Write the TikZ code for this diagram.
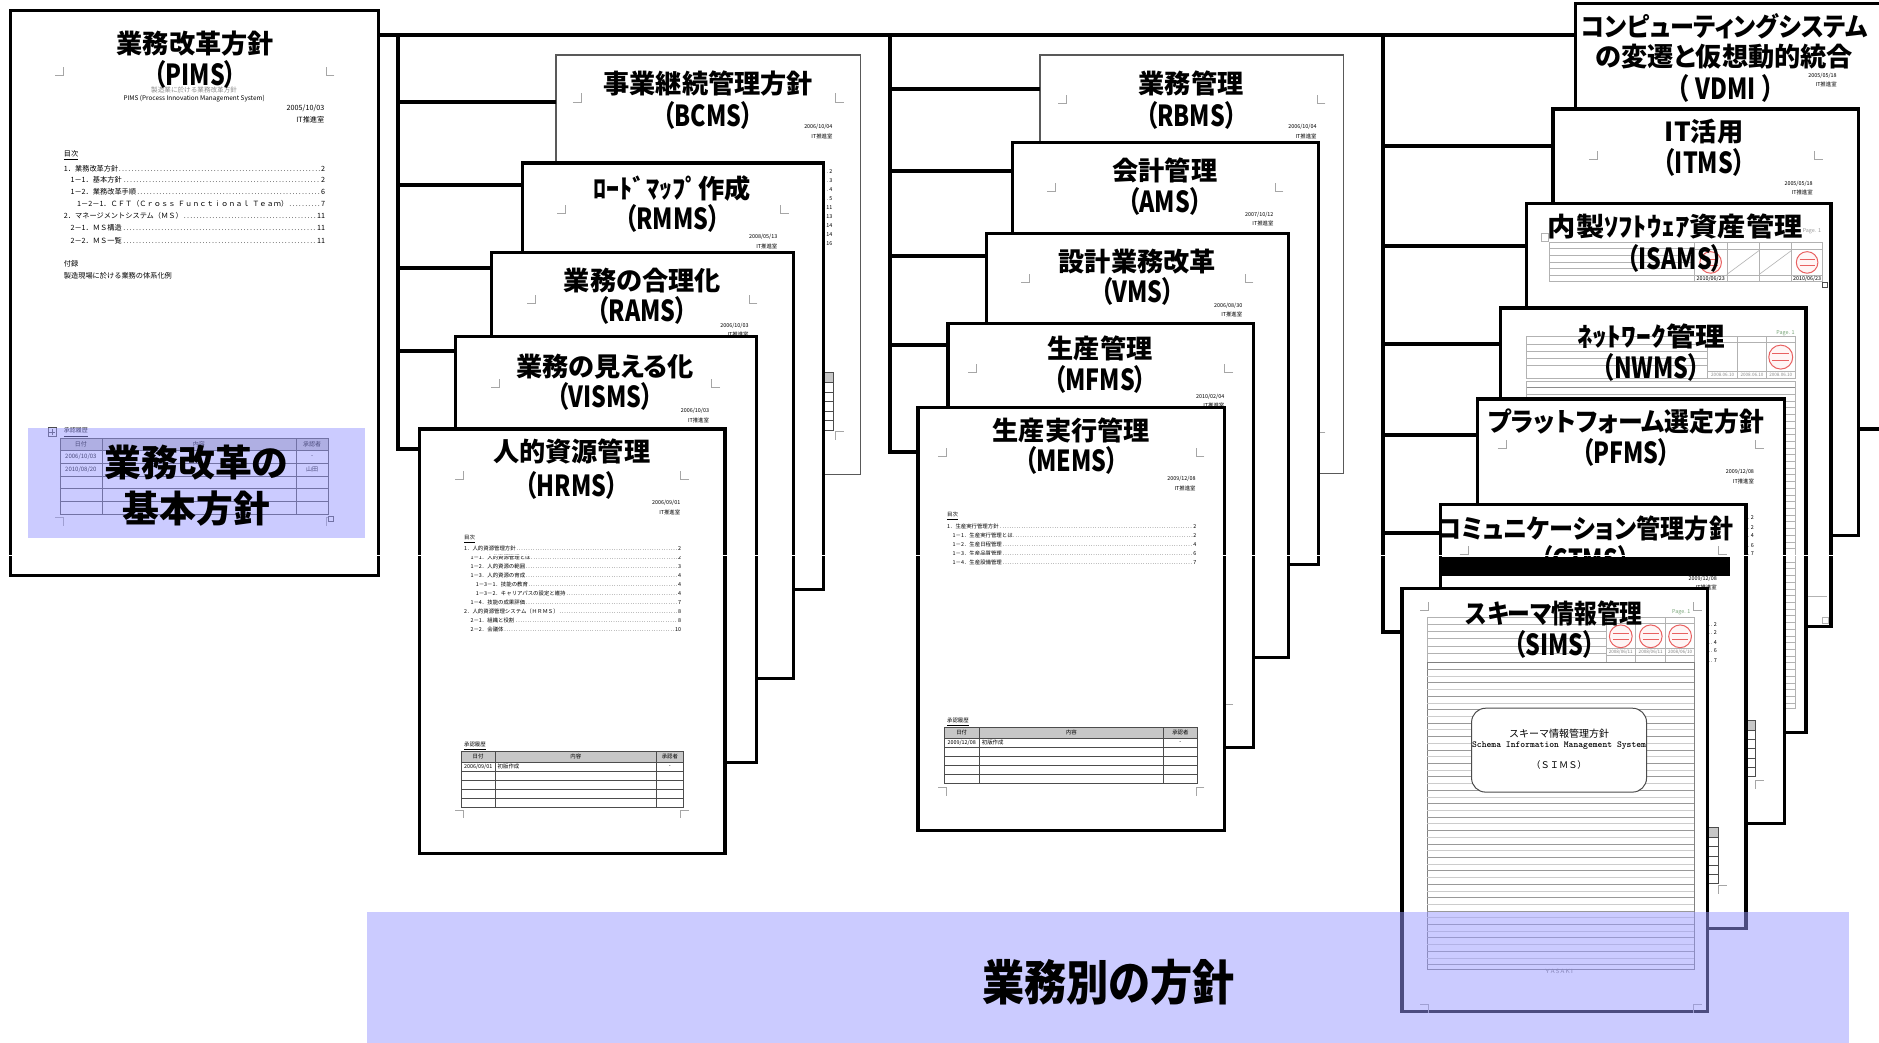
\documentclass[tikz,border=0pt]{standalone}
\usepackage{graphicx}
\usepackage{fontspec}
\newfontfamily\jp{Noto Sans CJK JP}[RawFeature=+palt]
\newfontfamily\jpn{Noto Sans CJK JP}
\usetikzlibrary{fit}
\definecolor{hlblue}{RGB}{153,153,255}
\definecolor{stampred}{RGB}{232,96,96}
\definecolor{pagegreen}{RGB}{120,165,120}
\tikzset{
  conn/.style={draw=black, line width=2pt, line join=miter},
  pgk/.style={draw=black, line width=1.6pt, fill=white, inner sep=0pt, outer sep=0pt},
  pgt/.style={draw=black!65, line width=0.8pt, fill=white, inner sep=0pt, outer sep=0pt},
  ttl/.style={font=\jp\bfseries\fontsize{13.1}{14}\selectfont, inner sep=0pt},
  bigttl/.style={font=\jp\bfseries\fontsize{18.4}{19}\selectfont, inner sep=0pt},
  sml/.style={font=\jpn\fontsize{2.7}{3}\selectfont, inner sep=0pt},
  smp/.style={font=\jpn\fontsize{3.6}{4}\selectfont, inner sep=0pt},
  smq/.style={font=\jpn\fontsize{3}{3.4}\selectfont, inner sep=0pt},
  cmk/.style={draw=black!35, line width=0.35pt},
  tline/.style={draw=black!70, line width=0.35pt},
  gline/.style={draw=black!30, line width=0.3pt},
  hl/.style={fill=hlblue, fill opacity=0.5, draw=none},
  stampst/.style={draw=stampred, line width=0.5pt, fill=red!4},
}
% corner marks
\newcommand\cmTL[2]{\draw[cmk] (#1-7,#2) -- (#1,#2) -- (#1,#2-7);}
\newcommand\cmTR[2]{\draw[cmk] (#1+7,#2) -- (#1,#2) -- (#1,#2-7);}
\newcommand\cmBL[2]{\draw[cmk] (#1-7,#2) -- (#1,#2) -- (#1,#2+7);}
\newcommand\cmBR[2]{\draw[cmk] (#1+7,#2) -- (#1,#2) -- (#1,#2+7);}
\newcommand\pgmarks[7]{\cmTL{#1+#5}{#2+#6}\cmTR{#3-#5}{#2+#6}\cmBL{#1+#5}{#4-#7}\cmBR{#3-#5}{#4-#7}}
% date block
\newcommand\dblock[4]{%
  \node[sml, anchor=east] (#1-date) at (#2,#3) {#4};
  \node[sml, anchor=east] (#1-dept) at (#2,#3+7.5) {IT推進室};}
% titles (line 1 may be widened/narrowed by factor #7)
\newcommand\ttls[7]{%
  \node[ttl] (#1-t1) at (#2,#3) {\scalebox{#7}[1]{#4}};
  \node[ttl] (#1-t2) at (#2,#5) {\scalebox{0.8}[1]{\fontsize{14.5}{15}\selectfont #6}};}
% table: L T R B c1 c2 headerheight
\newcommand\tbl[7]{%
  \fill[black!22] (#1,#2) rectangle (#3,#2+#7);
  \foreach \i in {0,...,4} {\draw[tline] (#1,{#2+#7+\i*(#4-#2-#7)/5}) -- (#3,{#2+#7+\i*(#4-#2-#7)/5});}
  \draw[tline] (#1,#2) rectangle (#3,#4);
  \draw[tline] (#5,#2) -- (#5,#4) (#6,#2) -- (#6,#4);}
% toc line: style name x y width text num
\newcommand\tocl[7]{\node[#1, anchor=west, text width=#5] (#2) at (#3,#4) {#6\dotfill #7};}
% short toc tail (only its right end shows): name xr y num
\newcommand\tocr[4]{\node[sml, anchor=east, text width=12pt] (#1) at (#2,#3) {\dotfill #4};}
% stamp
\newcommand\stampc[3]{\draw[stampst] (#1,#2) circle[radius=#3];
  \draw[draw=stampred, line width=0.3pt] (#1-#3*0.7,#2-#3*0.3) -- (#1+#3*0.7,#2-#3*0.3) (#1-#3*0.7,#2+#3*0.3) -- (#1+#3*0.7,#2+#3*0.3);}

\begin{document}
\begin{tikzpicture}[x=0.5992pt, y=-0.5992pt]
\useasboundingbox (0,0) rectangle (1568,870.3);
\fill[white] (0,0) rectangle (1568,870.3);

% ================= PIMS =================
\node[pgk, fit={(9,9) (316,480)}] (pims) {};
\pgmarks{9}{9}{316}{480}{44}{54}{48}
\node[font=\jpn\fontsize{3.3}{4}\selectfont, text=black!45, inner sep=0pt] (pims-sub) at (162,75.5) {製造業に於ける業務改革方針};
\node[font=\jpn\fontsize{3.2}{4}\selectfont, inner sep=0pt] (pims-en) at (162,82) {PIMS (Process Innovation Management System)};
\node[smp, anchor=east] (pims-date) at (271,90.5) {2005/10/03};
\node[smp, anchor=east] (pims-dept) at (271,100) {IT推進室};
\node[smp, anchor=west] (pims-mk) at (53,130) {\underline{目次}};
\tocl{smp}{pims-c1}{53}{141}{130.6pt}{1．業務改革方針}{2}
\tocl{smp}{pims-c2}{53}{150}{130.6pt}{\hspace*{3.3pt}1－1．基本方針}{2}
\tocl{smp}{pims-c3}{53}{160}{130.6pt}{\hspace*{3.3pt}1－2．業務改革手順}{6}
\tocl{smp}{pims-c4}{53}{170}{130.6pt}{\hspace*{6.6pt}1－2－1．ＣＦＴ（Ｃｒｏｓｓ Ｆｕｎｃｔｉｏｎａｌ Ｔｅａｍ）}{7}
\tocl{smp}{pims-c5}{53}{180}{130.6pt}{2．マネージメントシステム（ＭＳ）}{11}
\tocl{smp}{pims-c6}{53}{190}{130.6pt}{\hspace*{3.3pt}2－1．ＭＳ構造}{11}
\tocl{smp}{pims-c7}{53}{201}{130.6pt}{\hspace*{3.3pt}2－2．ＭＳ一覧}{11}
\node[smp, anchor=west] (pims-ap1) at (53,220) {付録};
\node[smp, anchor=west] (pims-ap2) at (53,230) {製造現場に於ける業務の体系化例};
\node[smq, anchor=west] (pims-hist) at (53,361) {\underline{承認履歴}};
\draw[tline] (40,357) rectangle (47,364) (43.5,358) -- (43.5,363) (41,360.5) -- (46,360.5);
\tbl{50}{366}{274}{429}{85}{247}{10}
\node[smq] (pims-h1) at (67.5,371) {日付};
\node[smq] (pims-h2) at (166,371) {内容};
\node[smq] (pims-h3) at (260.5,371) {承認者};
\node[smq] (pims-r1) at (67.5,381.3) {2006/10/03};
\node[smq] (pims-r2) at (260.5,381.3) {-};
\node[smq] (pims-r3) at (67.5,391.9) {2010/08/20};
\node[smq] (pims-r4) at (260.5,391.9) {山田};
\draw[tline, fill=white] (274,431) rectangle (278,435);
\ttls{pims}{163}{36}{業務改革方針}{62}{（PIMS）}{1}
\fill[hl] (23,357) rectangle (305,449);
\node[bigttl] (pims-b1) at (164,386) {業務改革の};
\node[bigttl] (pims-b2) at (164,424) {基本方針};

% ================= group 1 =================
\node[pgt, fit={(464,46) (718,396)}] (bcms) {};
\pgmarks{464}{46}{718}{396}{21}{39}{36}
\dblock{bcms}{695}{106}{2006/10/04}
\foreach \k/\n in {0/2,1/3,2/4,3/5,4/11,5/13,6/14,7/14,8/16}
  {\tocr{bcms-c\k}{695}{143+7.5*\k}{\n}}
\tbl{487}{311}{695}{359}{515}{672}{8}
\ttls{bcms}{591}{70}{事業継続管理方針}{96}{（BCMS）}{1}

\node[pgk, fit={(436,136) (687,492)}] (rmms) {};
\pgmarks{436}{136}{687}{492}{36}{42}{36}
\dblock{rmms}{649}{198}{2008/05/13}
\ttls{rmms}{561}{157}{ﾛｰﾄﾞﾏｯﾌﾟ作成}{182}{（RMMS）}{1}

\node[pgk, fit={(410,211) (662,566)}] (rams) {};
\pgmarks{410}{211}{662}{566}{37}{42}{36}
\dblock{rams}{625}{272}{2006/10/03}
\ttls{rams}{536}{234}{業務の合理化}{259}{（RAMS）}{1}

\node[pgk, fit={(380,281) (631,636)}] (visms) {};
\pgmarks{380}{281}{631}{636}{37}{42}{36}
\dblock{visms}{592}{343}{2006/10/03}
\ttls{visms}{505}{306}{業務の見える化}{331}{（VISMS）}{1}

\node[pgk, fit={(350,358) (605,712)}] (hrms) {};
\pgmarks{350}{358}{605}{712}{37}{42}{36}
\dblock{hrms}{568}{420}{2006/09/01}
\node[sml, anchor=west] (hrms-mk) at (387,450) {\underline{目次}};
\tocl{sml}{hrms-c1}{387}{458}{108.5pt}{1．人的資源管理方針}{2}
\tocl{sml}{hrms-c2}{387}{465.45}{108.5pt}{\hspace*{3.2pt}1－1．人的資源管理とは}{2}
\tocl{sml}{hrms-c3}{387}{472.9}{108.5pt}{\hspace*{3.2pt}1－2．人的資源の範囲}{3}
\tocl{sml}{hrms-c4}{387}{480.35}{108.5pt}{\hspace*{3.2pt}1－3．人的資源の育成}{4}
\tocl{sml}{hrms-c5}{387}{487.8}{108.5pt}{\hspace*{5.8pt}1－3－1．技能の教育}{4}
\tocl{sml}{hrms-c6}{387}{495.25}{108.5pt}{\hspace*{5.8pt}1－3－2．キャリアパスの設定と維持}{4}
\tocl{sml}{hrms-c7}{387}{502.7}{108.5pt}{\hspace*{3.2pt}1－4．技能の成果評価}{7}
\tocl{sml}{hrms-c8}{387}{510.15}{108.5pt}{2．人的資源管理システム（ＨＲＭＳ）}{8}
\tocl{sml}{hrms-c9}{387}{517.6}{108.5pt}{\hspace*{3.2pt}2－1．組織と役割}{8}
\tocl{sml}{hrms-c10}{387}{525.05}{108.5pt}{\hspace*{3.2pt}2－2．会議体}{10}
\node[sml, anchor=west] (hrms-hist) at (387,623) {\underline{承認履歴}};
\tbl{385}{627}{570}{674}{413}{548}{9}
\node[sml] (hrms-h1) at (399,631.5) {日付};
\node[sml] (hrms-h2) at (480.5,631.5) {内容};
\node[sml] (hrms-h3) at (559,631.5) {承認者};
\node[sml] (hrms-r1) at (399,639.8) {2006/09/01};
\node[sml, anchor=west] (hrms-r2) at (415,639.8) {初版作成};
\node[sml] (hrms-r3) at (559,639.8) {-};
\ttls{hrms}{477}{377}{人的資源管理}{405}{（HRMS）}{1}

% ================= group 2 =================
\node[pgt, fit={(868,46) (1121,395)}] (rbms) {};
\pgmarks{868}{46}{1121}{395}{22}{40}{34}
\dblock{rbms}{1099}{106}{2006/10/04}
\ttls{rbms}{994}{70}{業務管理}{96}{（RBMS）}{1}

\node[pgk, fit={(845,119) (1100,471)}] (ams) {};
\pgmarks{845}{119}{1100}{471}{36}{41}{36}
\dblock{ams}{1063}{179}{2007/10/12}
\ttls{ams}{972}{142}{会計管理}{168}{（AMS）}{1}

\node[pgk, fit={(823,195) (1075,549)}] (vms) {};
\pgmarks{823}{195}{1075}{549}{36}{41}{36}
\dblock{vms}{1037}{255}{2006/08/30}
\ttls{vms}{949}{218}{設計業務改革}{243}{（VMS）}{1}

\node[pgk, fit={(791,270) (1046,624)}] (mfms) {};
\pgmarks{791}{270}{1046}{624}{24}{41}{36}
\dblock{mfms}{1022}{331}{2010/02/04}
\ttls{mfms}{918}{291}{生産管理}{317}{（MFMS）}{1}

\node[pgk, fit={(766,340) (1022,693)}] (mems) {};
\pgmarks{766}{340}{1022}{693}{24}{41}{36}
\dblock{mems}{998}{400}{2009/12/08}
\node[sml, anchor=west] (mems-mk) at (790,431) {\underline{目次}};
\tocl{sml}{mems-c1}{790}{439}{124.6pt}{1．生産実行管理方針}{2}
\tocl{sml}{mems-c2}{790}{446.5}{124.6pt}{\hspace*{2.8pt}1－1．生産実行管理とは}{2}
\tocl{sml}{mems-c3}{790}{454}{124.6pt}{\hspace*{2.8pt}1－2．生産日程管理}{4}
\tocl{sml}{mems-c4}{790}{461.5}{124.6pt}{\hspace*{2.8pt}1－3．生産品質管理}{6}
\tocl{sml}{mems-c5}{790}{469}{124.6pt}{\hspace*{2.8pt}1－4．生産設備管理}{7}
\node[sml, anchor=west] (mems-hist) at (790,603) {\underline{承認履歴}};
\tbl{788}{607}{999}{654}{817}{971}{9}
\node[sml] (mems-h1) at (802.5,611.5) {日付};
\node[sml] (mems-h2) at (894,611.5) {内容};
\node[sml] (mems-h3) at (985,611.5) {承認者};
\node[sml] (mems-r1) at (802.5,619.8) {2009/12/08};
\node[sml, anchor=west] (mems-r2) at (819,619.8) {初版作成};
\node[sml] (mems-r3) at (985,619.8) {-};
\ttls{mems}{894}{359}{生産実行管理}{384}{（MEMS）}{1}

% ================= group 3 =================
\node[pgk, fit={(1315,3) (1600,358)}] (vdmi) {};
\dblock{vdmi}{1533}{63}{2005/05/18}
\node[ttl] (vdmi-t1) at (1439,22) {\scalebox{0.92}[1]{コンピューティングシステム}};
\node[ttl] (vdmi-t2) at (1439,47) {の変遷と仮想動的統合};
\node[ttl] (vdmi-t3) at (1440,74) {\scalebox{0.8}[1]{\fontsize{14.5}{15}\selectfont （\hspace{4pt}VDMI\hspace{4pt}）}};

\node[pgk, fit={(1296,91) (1551,447)}] (itms) {};
\pgmarks{1296}{91}{1551}{447}{37}{42}{36}
\dblock{itms}{1513}{153}{2005/05/18}
\ttls{itms}{1422}{110}{IT活用}{136}{（ITMS）}{1}

\node[pgk, fit={(1274,170) (1528,523)}] (isams) {};
\draw[gline] (1293,202) rectangle (1521,235);
\foreach \yy in {207,213,218.5,224,229.5} {\draw[gline] (1293,\yy) -- (1414,\yy);}
\draw[gline] (1414,202) -- (1414,235) (1441,202) -- (1441,235) (1468,202) -- (1468,235) (1495,202) -- (1495,235);
\draw[gline] (1414,208) -- (1521,208) (1414,230) -- (1521,230);
\draw[gline] (1441,229) -- (1468,209) (1468,229) -- (1495,209);
\stampc{1427.5}{219}{9}
\stampc{1508}{219}{9}
\node[sml] (isams-d1) at (1427.5,232.6) {2010/06/23};
\node[sml] (isams-d2) at (1508,232.6) {2010/06/23};
\node[sml, text=black!40] (isams-pg) at (1512,193) {Page. 1};
\draw[gline] (1286,195) rectangle (1292,201);
\draw[tline, fill=white] (1521,236) rectangle (1525,240);
\draw[gline] (1509,498) -- (1525,498);
\draw[gline] (1521,515) rectangle (1526,520);
\ttls{isams}{1398}{189}{内製ｿﾌﾄｳｪｱ資産管理}{216}{（ISAMS）}{1.08}

\node[pgk, fit={(1252,257) (1507,611)}] (nwms) {};
\draw[gline] (1274,281) rectangle (1498,316);
\draw[gline] (1425,281) -- (1425,316) (1450,281) -- (1450,316) (1474,281) -- (1474,316);
\draw[gline] (1425,286) -- (1498,286) (1425,310) -- (1498,310);
\foreach \yy in {287,293,299,305} {\draw[gline] (1274,\yy) -- (1425,\yy);}
\stampc{1486}{298}{10}
\node[font=\jpn\fontsize{2.3}{3}\selectfont, text=black!45, inner sep=0pt] (nwms-d1) at (1437.5,313) {2008.06.10};
\node[font=\jpn\fontsize{2.3}{3}\selectfont, text=black!45, inner sep=0pt] (nwms-d2) at (1462,313) {2008.06.10};
\node[font=\jpn\fontsize{2.3}{3}\selectfont, text=black!45, inner sep=0pt] (nwms-d3) at (1486,313) {2008.06.10};
\draw[gline] (1274,318) rectangle (1498,591);
\draw[black!45, line width=0.5pt] (1274,323) -- (1498,323);
\foreach \k in {0,...,46} {\draw[gline] (1274,{329+\k*5.6}) -- (1498,{329+\k*5.6});}
\node[sml, text=pagegreen] (nwms-pg) at (1490,278) {Page. 1};
\ttls{nwms}{1378}{281}{ﾈｯﾄﾜｰｸ管理}{307}{（NWMS）}{1.13}

\node[pgk, fit={(1233,333) (1489,687)}] (pfms) {};
\pgmarks{1233}{333}{1489}{687}{24}{41}{36}
\dblock{pfms}{1464}{394}{2009/12/08}
\foreach \k/\yy/\n in {1/432/2,2/440/2,3/447/4,4/455/6,5/462/7}
  {\tocr{pfms-c\k}{1464}{\yy}{\n}}
\tbl{1257}{601}{1465}{648}{1287}{1437}{8.5}
\ttls{pfms}{1357}{352}{プラットフォーム選定方針}{378}{（PFMS）}{0.95}

\node[pgk, fit={(1202,421) (1457,775)}] (ctms) {};
\pgmarks{1202}{421}{1457}{775}{23}{42}{36}
\dblock{ctms}{1433}{483}{2009/12/08}
\foreach \k/\yy/\n in {1/521/2,2/528/2,3/536/4,4/543/6,5/551/7}
  {\tocr{ctms-c\k}{1433}{\yy}{\n}}
\tbl{1227}{690}{1434}{737}{1257}{1407}{9}
\ttls{ctms}{1323}{441}{コミュニケーション管理方針}{467}{（CTMS）}{0.92}
\fill[black] (1202,465) rectangle (1444,481);

\node[pgk, fit={(1170,491) (1425,844)}] (sims) {};
\cmTL{1192}{509}\cmTR{1413}{509}\cmBL{1192}{838}\cmBR{1413}{838}
\draw[gline] (1191,515) rectangle (1414,553);
\foreach \yy in {521,527,533,539,545} {\draw[gline] (1191,\yy) -- (1340,\yy);}
\draw[gline] (1340,515) -- (1340,553) (1365,515) -- (1365,553) (1390,515) -- (1390,553);
\draw[gline] (1340,520) -- (1414,520) (1340,541) -- (1414,541) (1340,547) -- (1414,547);
\stampc{1352.5}{531}{9.5}
\stampc{1377.5}{531}{9.5}
\stampc{1402}{531}{9.5}
\node[font=\jpn\fontsize{2.3}{3}\selectfont, text=black!50, inner sep=0pt] (sims-d1) at (1352.5,544) {2008/06/11};
\node[font=\jpn\fontsize{2.3}{3}\selectfont, text=black!50, inner sep=0pt] (sims-d2) at (1377.5,544) {2008/06/11};
\node[font=\jpn\fontsize{2.3}{3}\selectfont, text=black!50, inner sep=0pt] (sims-d3) at (1402,544) {2008/06/10};
\node[sml, text=pagegreen] (sims-pg) at (1403,511) {Page. 1};
\draw[black!50, line width=0.4pt] (1191,553) rectangle (1414,809);
\foreach \k in {0,...,22} {\draw[black!40, line width=0.35pt] (1191,{558.6+\k*11.2}) -- (1414,{558.6+\k*11.2});}
\foreach \k in {0,...,21} {\draw[black!20, line width=0.35pt] (1191,{564.2+\k*11.2}) -- (1414,{564.2+\k*11.2});}
\draw[black!70, line width=0.5pt, fill=white, rounded corners=7pt] (1228,591) rectangle (1374,661);
\node[font=\jpn\fontsize{5}{6}\selectfont, inner sep=0pt] (sims-b1) at (1301,612) {スキーマ情報管理方針};
\node[font=\ttfamily\bfseries\fontsize{4.6}{5}\selectfont, inner sep=0pt] (sims-b2) at (1301,622) {Schema Information Management System};
\node[font=\jpn\fontsize{4.6}{5}\selectfont, inner sep=0pt] (sims-b3) at (1301,638) {（ＳＩＭＳ）};
\node[font=\sffamily\fontsize{3}{3.5}\selectfont, text=black!55, inner sep=0pt] (sims-ya) at (1301,811) {Y\,A\,S\,A\,K\,I};
\ttls{sims}{1297}{512}{スキーマ情報管理}{538}{（SIMS）}{0.87}

% ================= connectors =================
\coordinate (busA) at (332,29);
\coordinate (busB) at (743,29);
\coordinate (busC) at (1154,29);
\draw[conn] (pims.east |- busA) -- (vdmi.west |- busA);
\draw[conn] (busA) -- (busA |- 0,375) -- (hrms.west |- 0,375);
\foreach \pg/\yy in {bcms/85, rmms/154, rams/224, visms/293}
  {\draw[conn] (busA |- 0,\yy) -- (\pg.west |- 0,\yy);}
\draw[conn] (busB) -- (busB |- 0,377) -- (mems.west |- 0,377);
\foreach \pg/\yy in {rbms/74, ams/143, vms/214, mfms/288}
  {\draw[conn] (busB |- 0,\yy) -- (\pg.west |- 0,\yy);}
\draw[conn] (busC) -- (busC |- 0,527) -- (sims.west |- 0,527);
\foreach \pg/\yy in {itms/122, isams/205, nwms/287, pfms/363, ctms/445}
  {\draw[conn] (busC |- 0,\yy) -- (\pg.west |- 0,\yy);}

% thin white scan gap
\draw[white, line width=0.6pt] (0,463.5) -- (1568,463.5);

% ================= bottom band =================
\fill[hl] (306,761) rectangle (1543,871);
\node[font=\jp\bfseries\fontsize{24}{26}\selectfont, inner sep=0pt] (band-t) at (925,820) {\scalebox{0.88}[1]{業務別の方針}};
\end{tikzpicture}
\end{document}
